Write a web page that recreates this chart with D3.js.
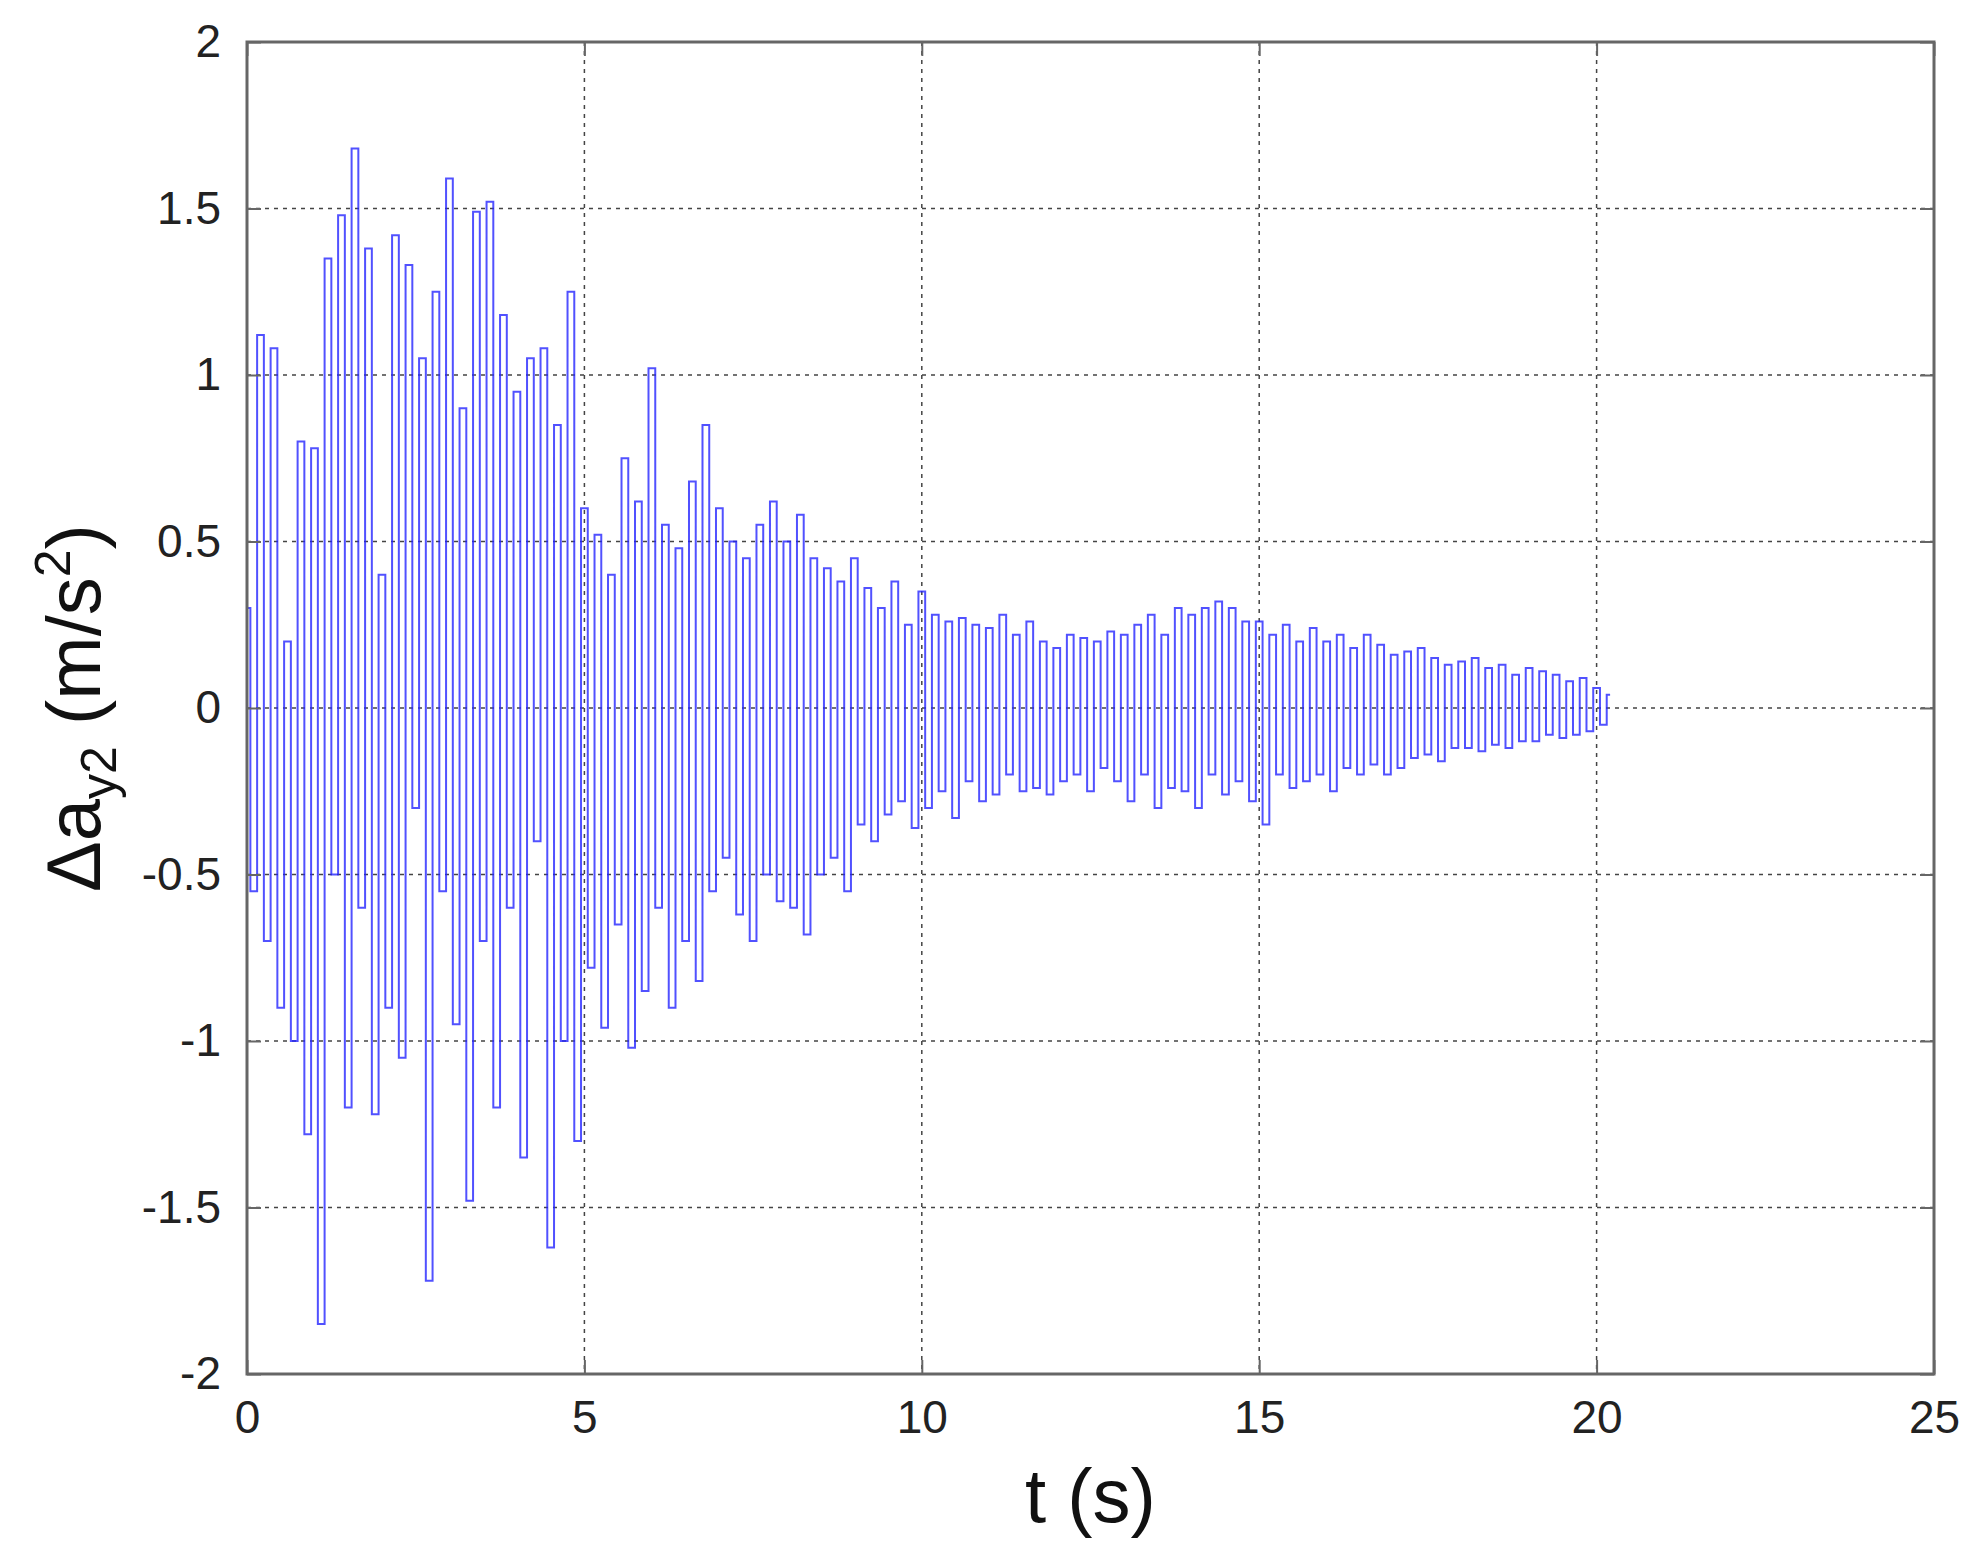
<!DOCTYPE html>
<html><head><meta charset="utf-8">
<script src="https://cdn.jsdelivr.net/npm/d3@7"></script>
<style>body{margin:0;background:#fff}svg{font-family:Arial,"Liberation Sans",sans-serif}</style>
</head><body><svg id="c" width="1975" height="1560"></svg>
<script>
const dt = 0.1;
const values = [
0.3,-0.55,1.12,-0.7,1.08,-0.9,0.2,-1.0,0.8,-1.28,
0.78,-1.85,1.35,-0.5,1.48,-1.2,1.68,-0.6,1.38,-1.22,
0.4,-0.9,1.42,-1.05,1.33,-0.3,1.05,-1.72,1.25,-0.55,
1.59,-0.95,0.9,-1.48,1.49,-0.7,1.52,-1.2,1.18,-0.6,
0.95,-1.35,1.05,-0.4,1.08,-1.62,0.85,-1.0,1.25,-1.3,
0.6,-0.78,0.52,-0.96,0.4,-0.65,0.75,-1.02,0.62,-0.85,
1.02,-0.6,0.55,-0.9,0.48,-0.7,0.68,-0.82,0.85,-0.55,
0.6,-0.45,0.5,-0.62,0.45,-0.7,0.55,-0.5,0.62,-0.58,
0.5,-0.6,0.58,-0.68,0.45,-0.5,0.42,-0.45,0.38,-0.55,
0.45,-0.35,0.36,-0.4,0.3,-0.32,0.38,-0.28,0.25,-0.36,
0.35,-0.3,0.28,-0.25,0.26,-0.33,0.27,-0.22,0.25,-0.28,
0.24,-0.26,0.28,-0.2,0.22,-0.25,0.26,-0.24,0.2,-0.26,
0.18,-0.22,0.22,-0.2,0.21,-0.25,0.2,-0.18,0.23,-0.22,
0.22,-0.28,0.25,-0.2,0.28,-0.3,0.22,-0.24,0.3,-0.25,
0.28,-0.3,0.3,-0.2,0.32,-0.26,0.3,-0.22,0.26,-0.28,
0.26,-0.35,0.22,-0.2,0.25,-0.24,0.2,-0.22,0.24,-0.2,
0.2,-0.25,0.22,-0.18,0.18,-0.2,0.22,-0.17,0.19,-0.2,
0.16,-0.18,0.17,-0.15,0.18,-0.14,0.15,-0.16,0.13,-0.12,
0.14,-0.12,0.15,-0.13,0.12,-0.11,0.13,-0.12,0.1,-0.1,
0.12,-0.1,0.11,-0.08,0.1,-0.09,0.08,-0.08,0.09,-0.07,
0.06,-0.05,0.04];
const xTicks = [0,5,10,15,20,25];
const yTicks = [-2,-1.5,-1,-0.5,0,0.5,1,1.5,2];

const L=247,R=1934,T=42,B=1374;
const svg=d3.select("#c");
const x=d3.scaleLinear().domain([0,25]).range([L,R]);
const y=d3.scaleLinear().domain([-2,2]).range([B,T]);
const data=values.map((v,i)=>({t:i*dt,v}));

const g=svg.append("g");
g.selectAll(".gx").data(xTicks.slice(1,-1)).join("line")
 .attr("x1",d=>x(d)).attr("x2",d=>x(d)).attr("y1",T).attr("y2",B)
 .attr("stroke","#444").attr("stroke-width",1.5).attr("stroke-dasharray","4,5");
g.selectAll(".gy").data(yTicks.slice(1,-1)).join("line")
 .attr("y1",d=>y(d)).attr("y2",d=>y(d)).attr("x1",L).attr("x2",R)
 .attr("stroke","#444").attr("stroke-width",1.5).attr("stroke-dasharray","4,5");

svg.append("path").datum(data)
 .attr("d",d3.line().x(d=>x(d.t)).y(d=>y(d.v)).curve(d3.curveStep))
 .attr("fill","none").attr("stroke","#2525ff").attr("stroke-width",2).attr("stroke-opacity",0.8);

const xa=svg.append("g").attr("transform",`translate(0,${B})`)
 .call(d3.axisBottom(x).tickValues(xTicks).tickSize(-14).tickPadding(26).tickFormat(d3.format("d")));
const xa2=svg.append("g").attr("transform",`translate(0,${T})`)
 .call(d3.axisTop(x).tickValues(xTicks).tickSize(-14).tickFormat(""));
const ya=svg.append("g").attr("transform",`translate(${L},0)`)
 .call(d3.axisLeft(y).tickValues(yTicks).tickSize(-14).tickPadding(26).tickFormat(d=>String(d)));
const ya2=svg.append("g").attr("transform",`translate(${R},0)`)
 .call(d3.axisRight(y).tickValues(yTicks).tickSize(-14).tickFormat(""));
[xa,xa2,ya,ya2].forEach(a=>{a.select(".domain").remove();a.selectAll("line").attr("stroke","#666").attr("stroke-width",2);
 a.selectAll("text").attr("font-size",46).attr("fill","#222").attr("font-family","Arial,'Liberation Sans',sans-serif");});
svg.append("rect").attr("x",L).attr("y",T).attr("width",R-L).attr("height",B-T)
 .attr("fill","none").attr("stroke","#666").attr("stroke-width",3);

svg.append("text").attr("x",(L+R)/2).attr("y",1522).attr("text-anchor","middle")
 .attr("font-size",76).attr("fill","#111").text("t (s)");
const yl=svg.append("text").attr("transform",`translate(100,${(T+B)/2}) rotate(-90)`)
 .attr("text-anchor","middle").attr("font-size",76).attr("fill","#111");
yl.append("tspan").text("Δa");
yl.append("tspan").attr("font-size",50).attr("dy",16).text("y2");
yl.append("tspan").attr("dy",-16).text(" (m/s");
yl.append("tspan").attr("font-size",50).attr("dy",-30).text("2");
yl.append("tspan").attr("dy",30).text(")");
</script></body></html>
